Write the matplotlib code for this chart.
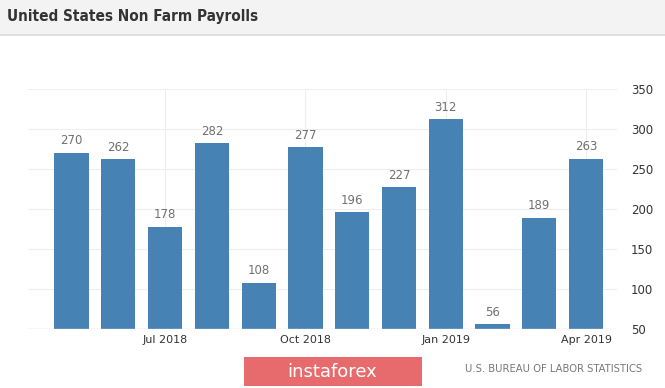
import matplotlib.pyplot as plt
from matplotlib.patches import Rectangle

months = ["May 2018", "Jun 2018", "Jul 2018", "Aug 2018", "Sep 2018", "Oct 2018",
          "Nov 2018", "Dec 2018", "Jan 2019", "Feb 2019", "Mar 2019", "Apr 2019"]
payrolls = [270, 262, 178, 282, 108, 277, 196, 227, 312, 56, 189, 263]
tick_months = ["Jul 2018", "Oct 2018", "Jan 2019", "Apr 2019"]
y_ticks = [50, 100, 150, 200, 250, 300, 350]

plt.rcParams['font.family'] = ['Liberation Sans', 'DejaVu Sans']

W, H = 665, 388
fig = plt.figure(figsize=(W / 100, H / 100), dpi=100)

# header band
fig.patches.append(Rectangle((0, 1 - 35 / H), 1, 35 / H, transform=fig.transFigure,
                             facecolor='#f3f3f3', edgecolor='none', zorder=0))
fig.lines.append(plt.Line2D([0, 1], [1 - 35 / H, 1 - 35 / H], transform=fig.transFigure,
                            color='#dcdcdc', lw=1.2))
fig.text(7 / W, 1 - 17 / H, "United States Non Farm Payrolls", fontsize=11,
         fontweight='bold', color='#333333', va='center', ha='left',
         fontstretch='condensed', family='DejaVu Sans')

ax = fig.add_axes([28 / W, 1 - 329 / H, (617 - 28) / W, 240 / H])
x = list(range(len(months)))
bars = ax.bar(x, [v - 50 for v in payrolls], bottom=50, width=0.73,
              color='#4682b4', zorder=3)
ax.bar_label(bars, labels=[str(v) for v in payrolls], padding=4, fontsize=8.5,
             color='#707070', family='DejaVu Sans')

ax.set_ylim(50, 350)
ax.set_xlim(-0.93, 11.66)
ax.set_yticks(y_ticks)
ax.set_xticks([months.index(m) for m in tick_months])
ax.set_xticklabels(tick_months)
ax.yaxis.tick_right()
ax.tick_params(axis='y', length=0, pad=10, labelsize=8.5, labelcolor='#333333')
ax.tick_params(axis='x', length=0, pad=4, labelsize=8, labelcolor='#333333')
for lab in ax.get_xticklabels() + ax.get_yticklabels():
    lab.set_family('DejaVu Sans')
ax.grid(True, color='#eeeeee', lw=0.8, zorder=0)
for s in ax.spines.values():
    s.set_visible(False)
ax.axhline(50, color='#dddddd', lw=1, zorder=4)

# footer
fig.patches.append(Rectangle((244 / W, 1 - 386 / H), 178 / W, 29 / H,
                             transform=fig.transFigure, facecolor='#e76b6d',
                             edgecolor='none'))
fig.text(332 / W, 1 - 372 / H, "instaforex", fontsize=13, color='white',
         ha='center', va='center', family='DejaVu Sans')
fig.text(642 / W, 1 - 369 / H, "U.S. BUREAU OF LABOR STATISTICS", fontsize=8,
         color='#777777', ha='right', va='center', fontstretch='condensed',
         family='DejaVu Sans')

fig.savefig("out.png", dpi=100)
